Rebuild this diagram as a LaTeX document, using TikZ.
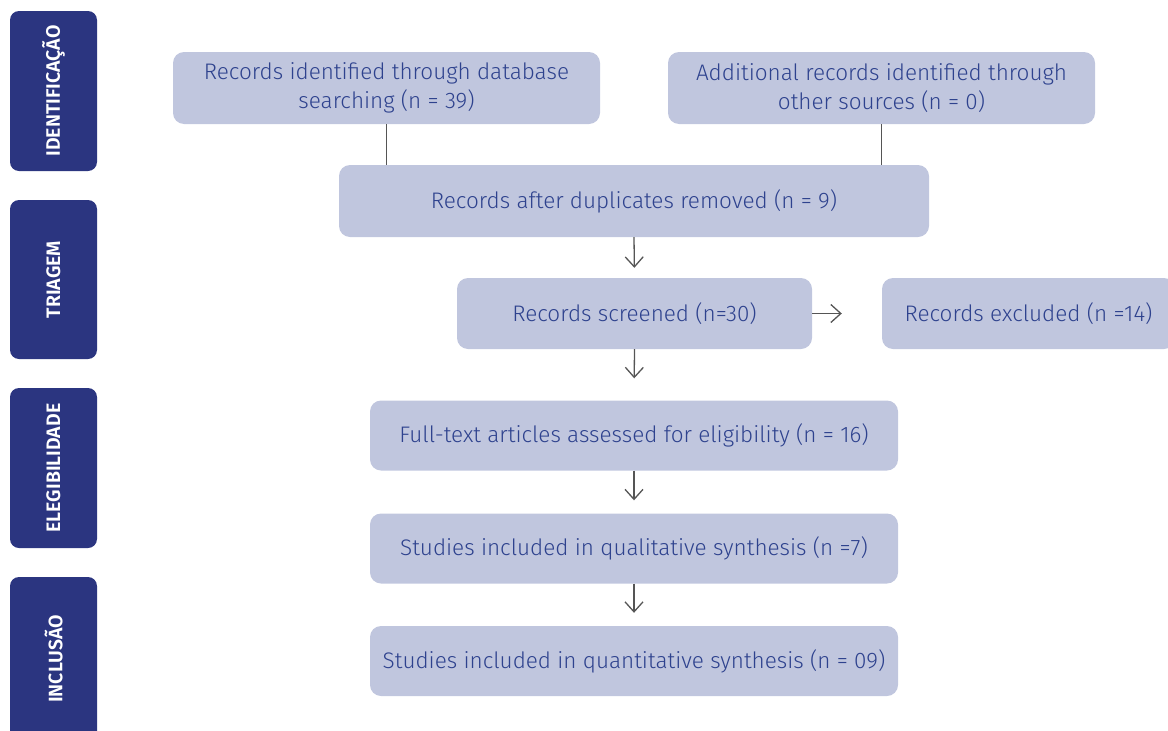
\documentclass[tikz,border=0pt]{standalone}
\usepackage{fontspec}
\IfFontExistsTF{Fira Sans Light}{\setmainfont{Fira Sans Light}[BoldFont={Fira Sans SemiBold}]}{\setmainfont{Fira Sans}}
\usetikzlibrary{arrows.meta}
\definecolor{barra}{RGB}{43,53,128}
\definecolor{caixa}{RGB}{192,198,222}
\definecolor{texto}{RGB}{46,66,142}
\definecolor{traco}{RGB}{85,85,85}
\begin{document}
\begin{tikzpicture}[x=1pt, y=-1pt,
    etapa/.style={fill=barra, rounded corners=9pt, rotate=90, inner sep=0pt,
      minimum height=87pt, text=white, font=\fontsize{19.5}{20}\selectfont\bfseries},
    caixa/.style={fill=caixa, rounded corners=11pt, inner sep=0pt, align=center,
      text=texto, font=\fontsize{22.5}{29}\selectfont},
    linha/.style={draw=traco, line width=1pt},
    seta/.style={draw=traco, line width=1.3pt, -{Straight Barb[length=10pt,width=18pt]}}]
  \useasboundingbox (0,0) rectangle (1168,731);

  % Etapas (barras laterais)
  \node[etapa, minimum width=160pt] (ident) at (53.5,91) {IDENTIFICAÇÃO};
  \node[etapa, minimum width=159pt] (triag) at (53.5,279.5) {TRIAGEM};
  \node[etapa, minimum width=160pt] (eleg) at (53.5,468) {ELEGIBILIDADE};
  \node[etapa, minimum width=164pt] (incl) at (53.5,659) {INCLUSÃO};

  % Caixas do fluxo
  \node[caixa, minimum width=427pt, minimum height=72pt] (busca) at (386.5,88)
    {Records identified through database\\searching (n = 39)};
  \node[caixa, minimum width=427pt, minimum height=72pt] (outras) at (881.5,88)
    {Additional records identified through\\other sources (n = 0)};
  \node[caixa, minimum width=590pt, minimum height=72pt] (duplic) at (634,201)
    {Records after duplicates removed (n = 9)};
  \node[caixa, minimum width=355pt, minimum height=71pt] (triados) at (634.5,313.5)
    {Records screened (n=30)};
  \node[caixa, minimum width=293pt, minimum height=71pt] (excl) at (1028.5,313.5)
    {Records excluded (n =14)};
  \node[caixa, minimum width=528pt, minimum height=70pt] (texto) at (634,435.5)
    {Full-text articles assessed for eligibility (n = 16)};
  \node[caixa, minimum width=528pt, minimum height=70pt] (quali) at (634,548.5)
    {Studies included in qualitative synthesis (n =7)};
  \node[caixa, minimum width=528pt, minimum height=70pt] (quanti) at (634,661)
    {Studies included in quantitative synthesis (n = 09)};

  % Ligacoes
  \draw[linha] (busca.south) -- (busca.south |- duplic.north);
  \draw[linha] (outras.south) -- (outras.south |- duplic.north);
  \draw[seta, shorten >=10pt] (duplic.south) -- (triados.north);
  \draw[seta, shorten >=40pt] (triados.east) -- (excl.west);
  \draw[seta, shorten >=22pt] (triados.south) -- (texto.north);
  \draw[seta, shorten >=13pt] (texto.south) -- (quali.north);
  \draw[seta, shorten >=13pt] (quali.south) -- (quanti.north);
\end{tikzpicture}
\end{document}
